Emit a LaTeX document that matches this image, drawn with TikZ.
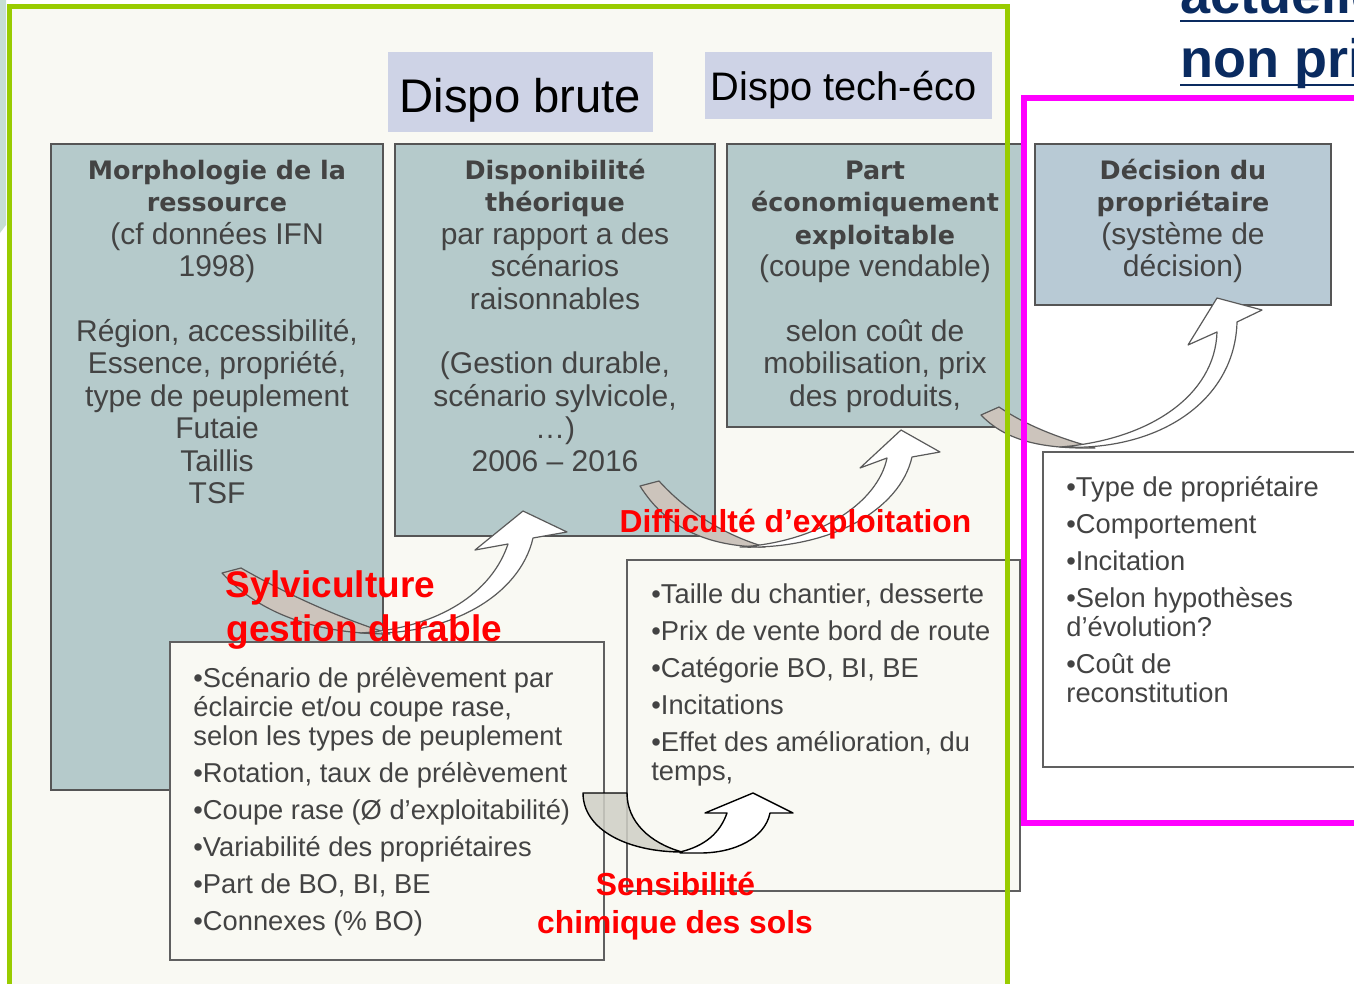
\documentclass[tikz,border=0pt]{standalone}
\usepackage{fontspec}
\setmainfont{Liberation Sans}
\newfontfamily\hdfont{DejaVu Sans}
\definecolor{framebg}{HTML}{F9F9F3}
\definecolor{framegreen}{HTML}{99CC00}
\definecolor{magframe}{HTML}{FF00FF}
\definecolor{boxfill}{HTML}{B5CACB}
\definecolor{boxfillD}{HTML}{B8CAD5}
\definecolor{boxline}{HTML}{555555}
\definecolor{lowline}{HTML}{606060}
\definecolor{txtgray}{HTML}{434343}
\definecolor{dispofill}{HTML}{CED3E6}
\definecolor{navy}{HTML}{0A2B60}
\definecolor{crescent}{HTML}{CCC4BC}
\definecolor{crescentB}{HTML}{CFCFC6}
\definecolor{arrowgray}{HTML}{5A5A5A}
\definecolor{leftstrip}{HTML}{C6DED3}
\newcommand\bxfont{\fontsize{15}{16.2}\selectfont\lineskiplimit=-50pt\lineskip=0pt\relax}
\newcommand\blfont{\fontsize{13.65}{14.5}\selectfont\lineskiplimit=-50pt\lineskip=0pt\relax}
\newcommand\hd[1]{{\hdfont\bfseries\fontsize{12.7}{16.2}\selectfont #1}}
\newcommand\topstrut{\rule{0pt}{11pt}}
\begin{document}
\begin{tikzpicture}[x=0.5pt,y=-0.5pt,
  topbox/.style={draw=boxline, line width=1pt, fill=boxfill},
  lowbox/.style={draw=lowline, line width=1pt, fill=framebg},
  bxtext/.style={inner sep=0pt, align=center, text=txtgray, font=\bxfont},
  bltext/.style={inner sep=0pt, align=left, text=txtgray, font=\blfont},
  redlbl/.style={inner sep=0pt, text=red},
  crescentpart/.style={fill=crescent, draw=arrowgray, line width=0.6pt, line join=round},
  arrowpart/.style={fill=white, draw=arrowgray, line width=0.6pt, line join=round},
  dispobox/.style={fill=dispofill}]
\clip (0,0) rectangle (1354,984);
\fill[white] (0,0) rectangle (1354,984);
\fill[leftstrip] (0,0) -- (6,0) -- (6,225) -- (0,233) -- cycle;
\fill[framebg] (9.5,6.5) rectangle (1007.5,1000);

% top labels
\fill[dispobox] (388,52) rectangle (653,132);
\fill[dispobox] (705,52) rectangle (992,119);
\node[inner sep=0pt, anchor=base, font=\fontsize{23.6}{28}\selectfont] (db) at (520.5,113) {Dispo brute};
\node[inner sep=0pt, anchor=base, font=\fontsize{19.9}{24}\selectfont] (dt) at (843.5,101) {Dispo tech-éco};

% top boxes
\draw[topbox] (51,144) rectangle (383,790);
\draw[topbox] (395,144) rectangle (715,536);
\draw[topbox] (727,144) rectangle (1022,427);
\draw[topbox, fill=boxfillD] (1035,144) rectangle (1331,305);

\node[bxtext, anchor=north] (ta) at (217,157) {\hd{\topstrut Morphologie de la}\\\hd{ressource}\\(cf données IFN\\1998)\\[16.2pt]Région, accessibilité,\\Essence, propriété,\\type de peuplement\\Futaie\\Taillis\\TSF};
\node[bxtext, anchor=north] (tb) at (555,157) {\hd{\topstrut Disponibilité}\\\hd{théorique}\\par rapport a des\\scénarios\\raisonnables\\[16.2pt](Gestion durable,\\scénario sylvicole,\\…)\\2006 – 2016};
\node[bxtext, anchor=north] (tc) at (875,157) {\hd{\topstrut Part}\\\hd{économiquement}\\\hd{exploitable}\\(coupe vendable)\\[16.2pt]selon coût de\\mobilisation, prix\\des produits,};
\node[bxtext, anchor=north] (td) at (1183,157) {\hd{\topstrut Décision du}\\\hd{propriétaire}\\(système de\\décision)};

% lower boxes
\draw[lowbox] (170,642) rectangle (604,960);
\draw[lowbox] (627,560) rectangle (1020,891);
\draw[lowbox, fill=white] (1043,452) rectangle (1370,767);

\node[bltext, anchor=north west] (te) at (193,665) {\topstrut •Scénario de prélèvement par\\éclaircie et/ou coupe rase,\\selon les types de peuplement\\[4pt]•Rotation, taux de prélèvement\\[4pt]•Coupe rase (Ø d’exploitabilité)\\[4pt]•Variabilité des propriétaires\\[4pt]•Part de BO, BI, BE\\[4pt]•Connexes (\% BO)};
\node[bltext, anchor=north west] (tf) at (651,581) {\topstrut •Taille du chantier, desserte\\[4pt]•Prix de vente bord de route\\[4pt]•Catégorie BO, BI, BE\\[4pt]•Incitations\\[4pt]•Effet des amélioration, du\\temps,};
\node[bltext, anchor=north west] (tg) at (1066,474) {\topstrut •Type de propriétaire\\[4pt]•Comportement\\[4pt]•Incitation\\[4pt]•Selon hypothèses\\d’évolution?\\[4pt]•Coût de\\reconstitution};

% arrow 1 (Sylviculture)
\path[crescentpart] (222,573) .. controls (262,616) and (320,634) .. (390,634)
   .. controls (340,618) and (290,596) .. (241,568) -- cycle;
\path[arrowpart] (360,633) .. controls (450,637) and (520,595) .. (533,538)
   -- (567,532) -- (523,511) -- (475,550) -- (508,544)
   .. controls (492,592) and (440,628) .. (360,633) -- cycle;
% arrow 2 (Difficulte)
\path[crescentpart] (640,486) .. controls (665,526) and (705,547) .. (765,547)
   .. controls (725,535) and (688,513) .. (659,481) -- cycle;
\path[arrowpart] (740,547) .. controls (830,550) and (900,510) .. (912,457)
   -- (940,452) -- (901,430) -- (860,468) -- (887,458)
   .. controls (878,502) and (820,542) .. (740,547) -- cycle;
% arrow 3 (Decision)
\path[crescentpart] (981,415) .. controls (1005,440) and (1040,449) .. (1095,448)
   .. controls (1055,437) and (1024,424) .. (999,407) -- cycle;
\path[arrowpart] (1060,447) .. controls (1160,452) and (1235,400) .. (1237,322)
   -- (1262,310) -- (1217,298) -- (1188,345) -- (1217,332)
   .. controls (1215,395) and (1150,440) .. (1060,447) -- cycle;
% arrow 4 (Sensibilite)
\path[fill=crescentB, fill opacity=0.85, draw=black, line width=0.7pt, line join=round]
   (583,793) -- (627,793) .. controls (627,822) and (650,843) .. (682,852)
   .. controls (628,852) and (583,830) .. (583,793) -- cycle;
\path[fill=white, draw=black, line width=0.7pt, line join=round]
   (680,853) -- (700,853) .. controls (735,853) and (765,838) .. (770,813)
   -- (793,813) -- (753,793) -- (705,813) -- (727,813)
   .. controls (720,833) and (705,846) .. (680,852) -- cycle;

% frames
\draw[framegreen, line width=2.5pt] (9.5,1000) -- (9.5,6.5) -- (1007.5,6.5) -- (1007.5,1000);
\draw[magframe, line width=3pt] (1370,98) -- (1023.5,98) -- (1023.5,823) -- (1370,823);

% red labels
\node[redlbl, anchor=base west, font=\bfseries\fontsize{18.5}{22}\selectfont] (sy1) at (225,597) {Sylviculture};
\node[redlbl, anchor=base west, font=\bfseries\fontsize{18.5}{22}\selectfont] (sy2) at (226,641) {gestion durable};
\node[redlbl, anchor=base, font=\bfseries\fontsize{15.9}{19}\selectfont] (dif) at (795.5,532) {Difficulté d’exploitation};
\node[redlbl, anchor=base, font=\bfseries\fontsize{15.9}{19}\selectfont] (se1) at (675.5,895) {Sensibilité};
\node[redlbl, anchor=base, font=\bfseries\fontsize{15.9}{19}\selectfont] (se2) at (675,933) {chimique des sols};

% top right title fragment
\node[inner sep=0pt, anchor=base west, text=navy, font=\bfseries\fontsize{27}{32}\selectfont] (act) at (1180,14) {actuelle};
\node[inner sep=0pt, anchor=base west, text=navy, font=\bfseries\fontsize{27}{32}\selectfont] (npr) at (1180,78) {non pri};
\draw[navy, line width=1.4pt] ([yshift=-3.5pt]act.base west) -- ([yshift=-3.5pt,xshift=20pt]act.base east);
\draw[navy, line width=1.4pt] ([yshift=-3.5pt]npr.base west) -- ([yshift=-3.5pt,xshift=20pt]npr.base east);
\end{tikzpicture}
\end{document}
